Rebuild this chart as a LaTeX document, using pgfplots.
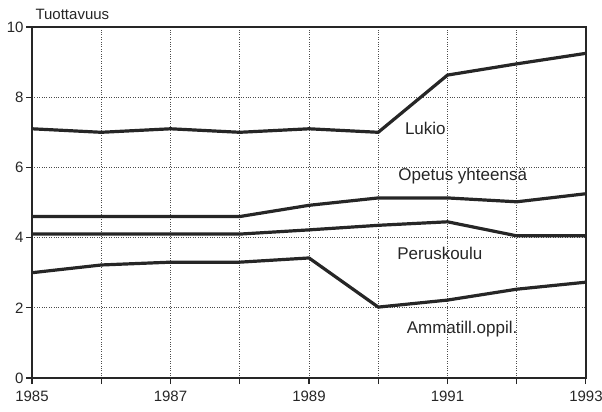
\documentclass[border=0pt]{standalone}
\usepackage{pgfplots}
\pgfplotsset{compat=1.18}
\usepackage{fontspec}
\setmainfont{Liberation Sans}
\pgfplotsset{ser/.style={black!85, line width=3.2pt, no markers, line join=round}}
\begin{document}
\begin{tikzpicture}
\begin{axis}[name=ax, scale only axis, width=554pt, height=351pt,
  xmin=1985, xmax=1993, ymin=0, ymax=10,
  xtick={1985,...,1993}, xticklabels={1985,,1987,,1989,,1991,,1993},
  ytick={0,2,...,10},
  clip=false,
  grid=major, grid style={dotted, black!70, line width=0.9pt},
  axis line style={line width=1.1pt, black!85},
  tick align=outside, tick pos=left,
  tick style={black!85, line width=1.1pt},
  major tick length=6pt,
  /pgf/number format/assume math mode=true,
  /pgf/number format/1000 sep={},
  ticklabel style={font=\fontsize{15}{17}\selectfont, black!85},
  xticklabel style={yshift=-3pt},
  yticklabel style={xshift=1pt},
]
\addplot[ser] coordinates {(1985,7.1)(1986,7.0)(1987,7.1)(1988,7.0)(1989,7.1)(1990,7.0)(1991,8.63)(1992,8.95)(1993,9.25)};
\addplot[ser] coordinates {(1985,4.6)(1986,4.6)(1987,4.6)(1988,4.6)(1989,4.92)(1990,5.13)(1991,5.13)(1992,5.02)(1993,5.25)};
\addplot[ser] coordinates {(1985,4.1)(1986,4.1)(1987,4.1)(1988,4.1)(1989,4.22)(1990,4.35)(1991,4.45)(1992,4.05)(1993,4.05)};
\addplot[ser] coordinates {(1985,3.0)(1986,3.22)(1987,3.3)(1988,3.3)(1989,3.42)(1990,2.02)(1991,2.22)(1992,2.53)(1993,2.73)};
\node[font=\fontsize{17}{19}\selectfont, black!85] at (axis cs:1990.68,7.1) {Lukio};
\node[font=\fontsize{17}{19}\selectfont, black!85] at (axis cs:1991.22,5.75) {Opetus yhteensä};
\node[font=\fontsize{17}{19}\selectfont, black!85] at (axis cs:1990.89,3.56) {Peruskoulu};
\node[font=\fontsize{17}{19}\selectfont, black!85] at (axis cs:1991.21,1.4) {Ammatill.oppil.};
\node[font=\fontsize{15}{17}\selectfont, black!85, anchor=base west] at ([yshift=7pt]rel axis cs:0,1) {Tuottavuus};
\end{axis}
\pgfresetboundingbox
\path ([shift={(-32pt,-33pt)}]ax.south west) rectangle ([shift={(16pt,27pt)}]ax.north east);
\end{tikzpicture}
\end{document}
